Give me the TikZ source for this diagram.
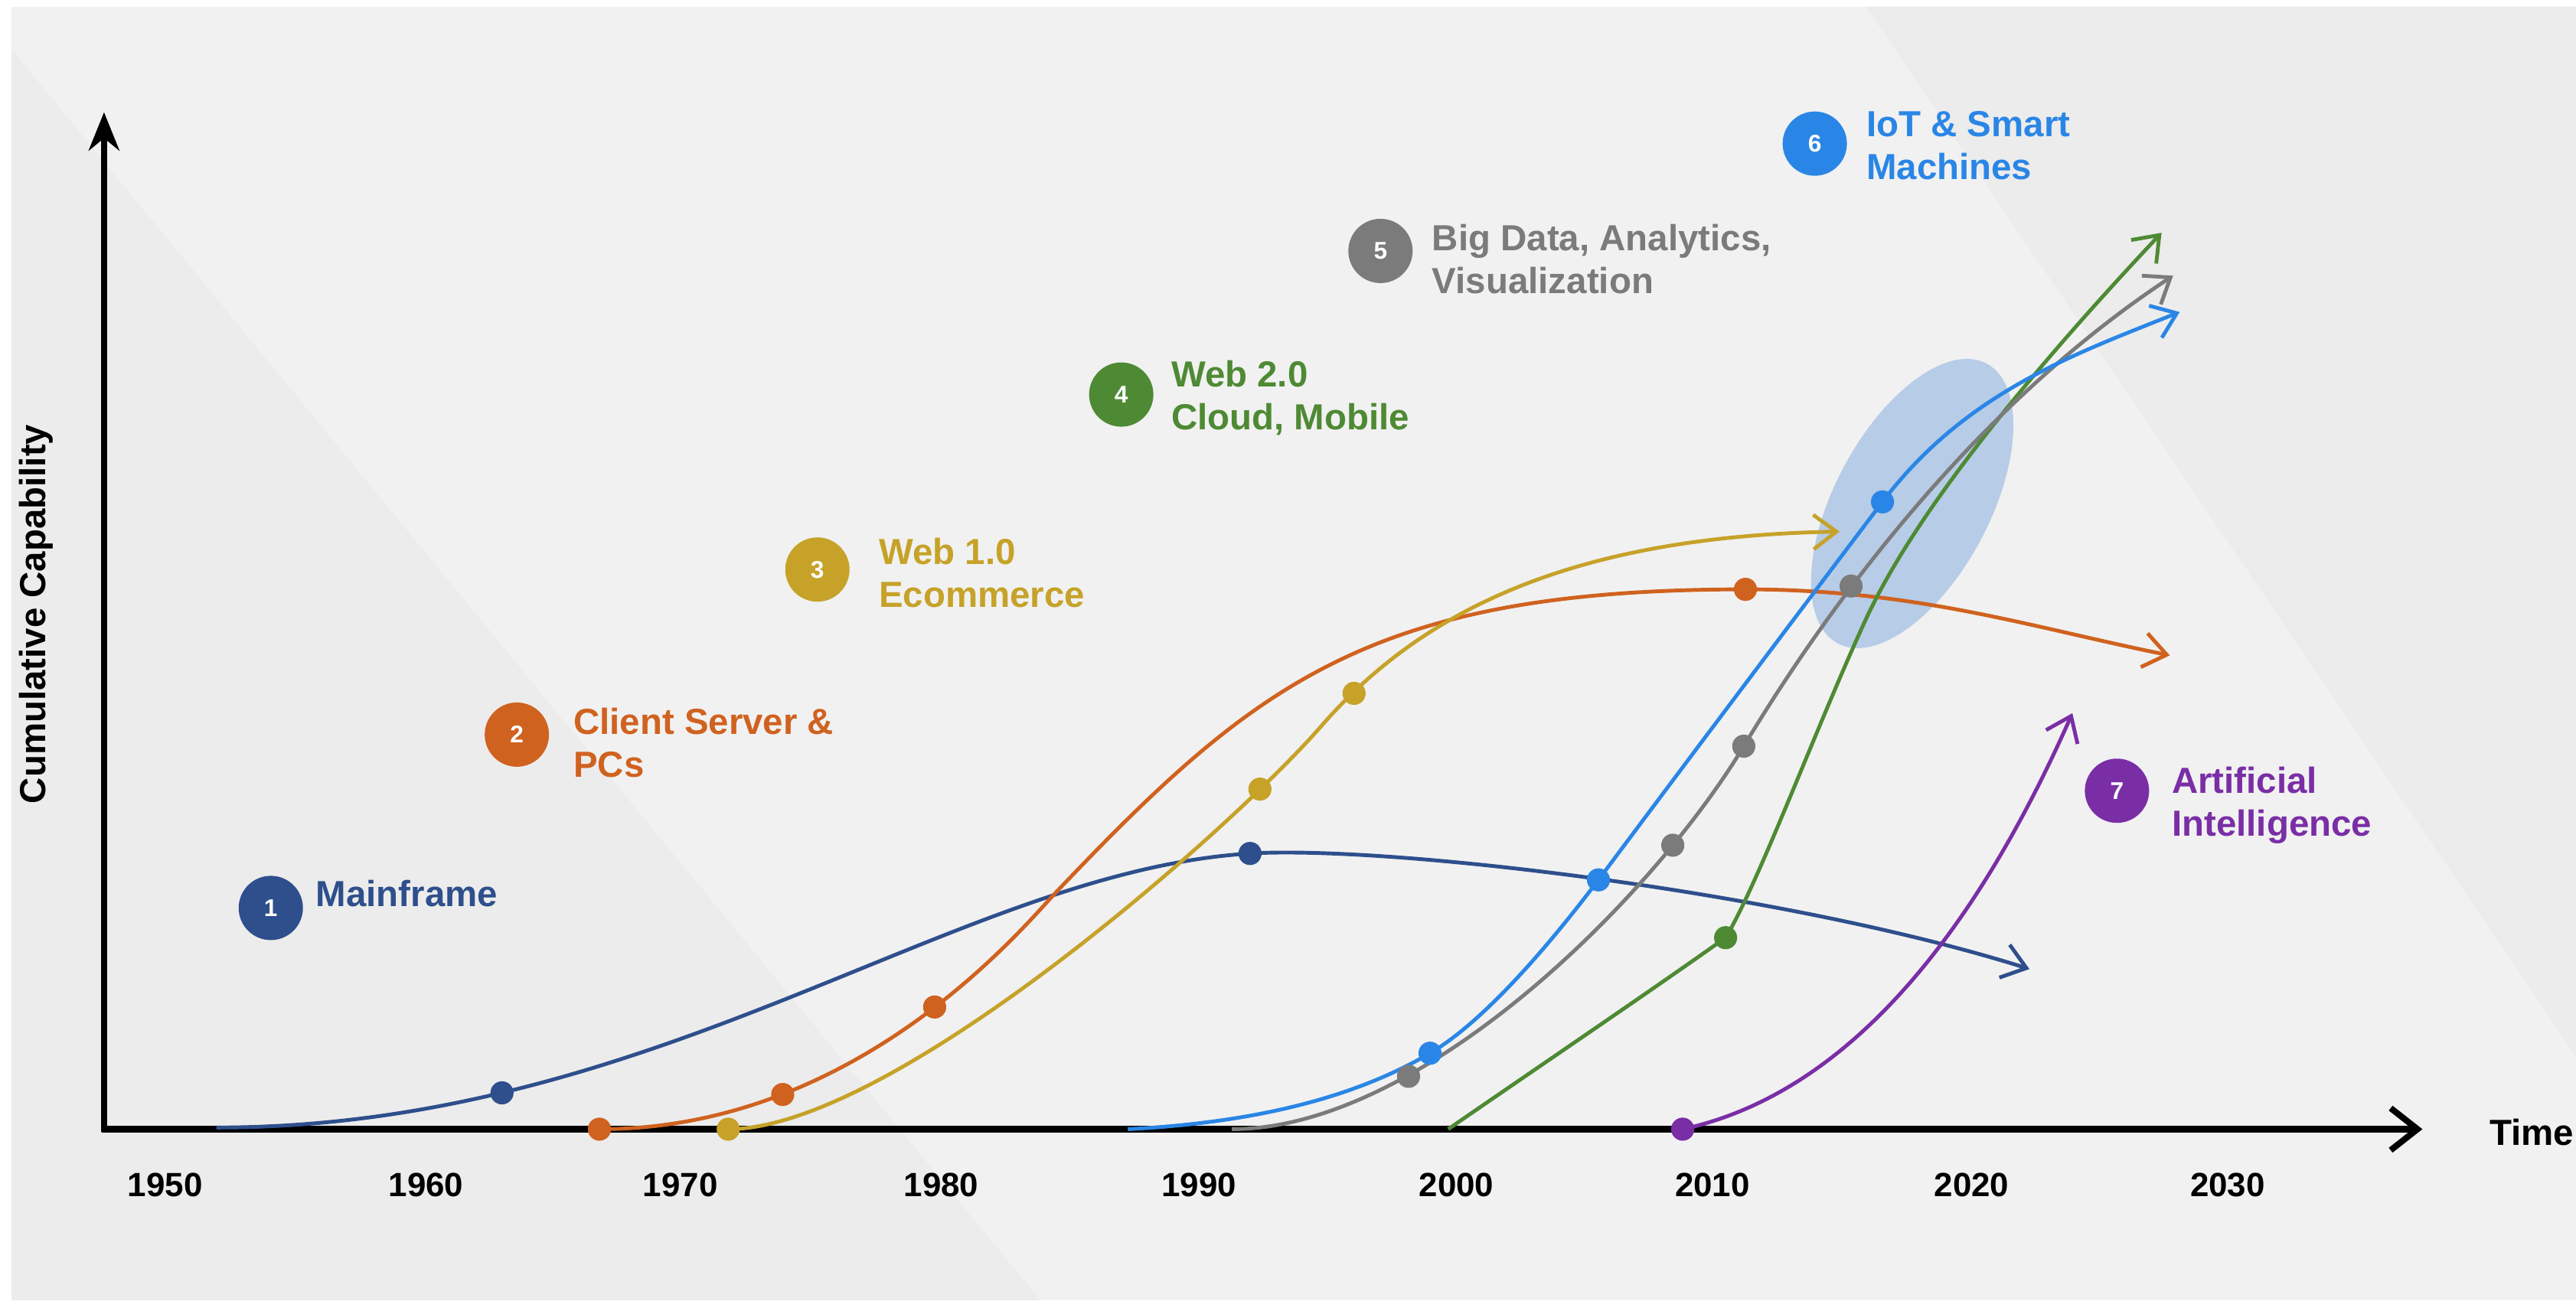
\documentclass[tikz,border=0pt]{standalone}
\usepackage{fontspec}
\setmainfont{Liberation Sans}
\usetikzlibrary{arrows.meta}
\definecolor{bgmain}{HTML}{F1F1F1}
\definecolor{bgshade}{HTML}{ECECEC}
\definecolor{hilite}{HTML}{B1C9E7}
\definecolor{mainframe}{HTML}{2E4F8C}
\definecolor{client}{HTML}{D0621F}
\definecolor{webone}{HTML}{C6A229}
\definecolor{webtwo}{HTML}{4E8A34}
\definecolor{bigdata}{HTML}{7B7B7B}
\definecolor{iot}{HTML}{2A86E6}
\definecolor{aicol}{HTML}{7A2EA6}
\tikzset{
	eranum/.style={circle, minimum size=0.84cm, inner sep=0pt, text=white, font=\bfseries\fontsize{9}{10}\selectfont},
	eratext/.style={anchor=west, align=left, inner sep=0pt, font=\bfseries\fontsize{13.5}{16}\selectfont},
	yearlbl/.style={inner sep=0pt, font=\bfseries\fontsize{12.5}{14}\selectfont},
	trend/.style={line width=1.4pt, -{Straight Barb[length=3mm,width=4.5mm]}},
	axisline/.style={line width=2.3pt},
}

\begin{document}
\begin{tikzpicture}[x=0.02157cm, y=-0.02157cm]
		%%%%% START %%%%%
		\useasboundingbox (0,0) rectangle (1560,787.7);
		\fill[white] (0,0) rectangle (1560,787.7);
		\fill[bgmain] (7,4) rectangle (1560,787.7);
		\fill[bgshade] (7,30) -- (630,787.7) -- (7,787.7) -- cycle;
		\fill[bgshade] (1130,4) -- (1560,4) -- (1560,640) -- cycle;
		
		\fill[hilite, opacity=0.9, rotate around={-28:(1158,305)}] (1158,305) ellipse [x radius=47, y radius=96];
		
		% axes
		\draw[axisline, -{Stealth[length=5mm,width=4mm]}] (63,685.5) -- (63,68);
		\draw[axisline, -{Straight Barb[length=3.5mm,width=5.5mm]}] (61.5,684) -- (1467,684);
		\node[rotate=90, font=\bfseries\fontsize{13.5}{15}\selectfont] (ylabel) at (22,372) {Cumulative Capability};
		\node[anchor=west, font=\bfseries\fontsize{13.5}{15}\selectfont] (xlabel) at (1502,686) {Time};
		
		\node[yearlbl] (y1950) at (100,718) {1950};
		\node[yearlbl] (y1960) at (258,718) {1960};
		\node[yearlbl] (y1970) at (412,718) {1970};
		\node[yearlbl] (y1980) at (570,718) {1980};
		\node[yearlbl] (y1990) at (726,718) {1990};
		\node[yearlbl] (y2000) at (882,718) {2000};
		\node[yearlbl] (y2010) at (1037,718) {2010};
		\node[yearlbl] (y2020) at (1194,718) {2020};
		\node[yearlbl] (y2030) at (1349,718) {2030};
		
		% curves
		\draw[trend, mainframe] (131,683) .. controls (400,683) and (580,528) .. (757,517) .. controls (840,512) and (1080,540) .. (1229,587);
		\draw[trend, client] (363,684) .. controls (520,684) and (620,561) .. (640,540) .. controls (760,414) and (830,357) .. (1057,357) .. controls (1160,357) and (1230,380) .. (1314,397);
		\draw[trend, webone] (441,684) .. controls (540,684) and (745,503) .. (800,440) .. controls (860,371) and (950,325) .. (1114,322);
		\draw[trend, webtwo] (877,684) .. controls (935,644) and (1000,600) .. (1045,568) .. controls (1065,535) and (1100,440) .. (1130,375) .. controls (1160,310) and (1230,225) .. (1309,141);
		\draw[trend, bigdata] (746,684) .. controls (860,684) and (1000,545) .. (1056,452) .. controls (1101,377) and (1190,250) .. (1316,167);
		\draw[trend, iot] (683,684) .. controls (760,680) and (820,665) .. (866,638) .. controls (900,618) and (940,570) .. (968,533) .. controls (1000,490) and (1090,370) .. (1140,304) .. controls (1190,238) and (1255,215) .. (1320,189);
		\draw[trend, aicol] (1019,684) .. controls (1130,660) and (1205,545) .. (1255,432);
		
		% markers
		\fill[mainframe] (304,662) circle (7);
		\fill[mainframe] (757,517) circle (7);
		\fill[client] (363,684) circle (7);
		\fill[client] (474,663) circle (7);
		\fill[client] (566,610) circle (7);
		\fill[client] (1057,357) circle (7);
		\fill[webone] (441,684) circle (7);
		\fill[webone] (763,478) circle (7);
		\fill[webone] (820,420) circle (7);
		\fill[webtwo] (1045,568) circle (7);
		\fill[bigdata] (853,652) circle (7);
		\fill[bigdata] (1013,512) circle (7);
		\fill[bigdata] (1056,452) circle (7);
		\fill[bigdata] (1121,355) circle (7);
		\fill[iot] (866,638) circle (7);
		\fill[iot] (968,533) circle (7);
		\fill[iot] (1140,304) circle (7);
		\fill[aicol] (1019,684) circle (7);
		
		% eras
		\node[eranum, fill=mainframe] (n1) at (164,550) {1};
		\node[eratext, text=mainframe, anchor=base west] (t1) at (191,549) {Mainframe};
		
		\node[eranum, fill=client] (n2) at (313,445) {2};
		\node[eratext, text=client] (t2) at (347,450) {Client Server \&\\PCs};
		
		\node[eranum, fill=webone] (n3) at (495,345) {3};
		\node[eratext, text=webone] (t3) at (532,347) {Web 1.0\\Ecommerce};
		
		\node[eranum, fill=webtwo] (n4) at (679,239) {4};
		\node[eratext, text=webtwo] (t4) at (709,241) {Web 2.0\\Cloud, Mobile};
		
		\node[eranum, fill=bigdata] (n5) at (836,152) {5};
		\node[eratext, text=bigdata] (t5) at (867,157) {Big Data, Analytics,\\Visualization};
		
		\node[eranum, fill=iot] (n6) at (1099,87) {6};
		\node[eratext, text=iot] (t6) at (1130,88) {IoT \& Smart\\Machines};
		
		\node[eranum, fill=aicol] (n7) at (1282,479) {7};
		\node[eratext, text=aicol] (t7) at (1315,488) {Artificial\\Intelligence};
		%%%%% END %%%%%
\end{tikzpicture}
\end{document}
